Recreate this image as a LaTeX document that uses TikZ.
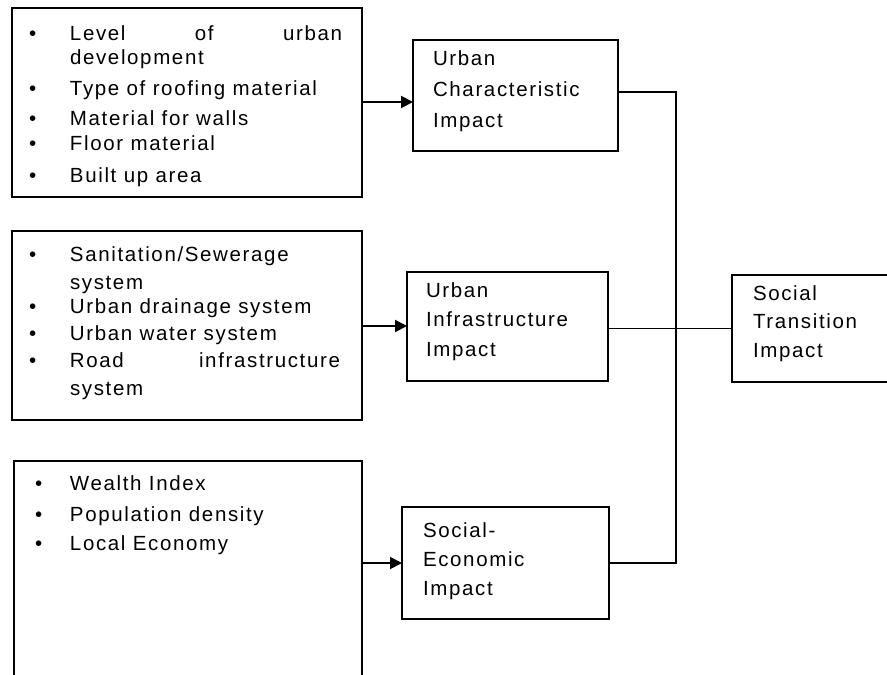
\documentclass[tikz,border=0pt]{standalone}
\usepackage{fontspec}
\setmainfont{Liberation Sans}[LetterSpace=8]
\usetikzlibrary{arrows.meta}
\hyphenpenalty=10000
\exhyphenpenalty=10000
\tolerance=10000
\hbadness=10000
% one bulleted entry: the bullet sits #1 to the left of the text block
\newcommand\listentry[2]{\noindent\llap{\makebox[#1][l]{\textbullet}}#2}
\begin{document}
\begin{tikzpicture}[x=1pt,y=-1pt,
  every node/.style={inner sep=0pt, outer sep=0pt},
  frame/.style={draw, line width=2pt, rectangle, anchor=north west},
  item/.style={anchor=base west, text width=#1, align=justify},
  item/.default=272pt,
  tight/.style={font=\fontsize{20.5pt}{24pt}\selectfont},
  loose/.style={font=\fontsize{20.5pt}{28pt}\selectfont},
  label/.style={anchor=base west, text width=190pt, align=left},
  arrow/.style={line width=2pt, -{Triangle[length=12pt,width=12pt]}},
  conn/.style={line width=2pt},
  thinconn/.style={line width=1.4pt}]
\useasboundingbox (0,0) rectangle (887,675);

% input boxes
\node[frame, minimum width=350pt, minimum height=189pt] (b1) at (12,8) {};
\node[frame, minimum width=350pt, minimum height=189pt] (b2) at (12,231) {};
\node[frame, minimum width=348pt, minimum height=240pt] (b3) at (14,461) {};

% impact boxes
\node[frame, minimum width=205pt, minimum height=111pt] (uc) at (413,40) {};
\node[frame, minimum width=201pt, minimum height=109pt] (ui) at (407,272) {};
\node[frame, minimum width=207pt, minimum height=112pt] (se) at (402,507) {};
\node[frame, minimum width=200pt, minimum height=107pt] (st) at (732,275) {};

% urban characteristics
\node[item, tight] (i11) at (70,40)  {\listentry{41pt}{Level of urban\linebreak development}};
\node[item, tight] (i12) at (70,95)  {\listentry{41pt}{Type of roofing material}};
\node[item, tight] (i13) at (70,125) {\listentry{41pt}{Material for walls}};
\node[item, tight] (i14) at (70,150) {\listentry{41pt}{Floor material}};
\node[item, tight] (i15) at (70,182) {\listentry{41pt}{Built up area}};

% urban infrastructure
\node[item=270pt, loose] (i21) at (70,261) {\listentry{41pt}{Sanitation/Sewerage\newline system}};
\node[item=270pt, loose] (i22) at (70,313) {\listentry{41pt}{Urban drainage system}};
\node[item=270pt, loose] (i23) at (70,340) {\listentry{41pt}{Urban water system}};
\node[item=270pt, loose] (i24) at (70,367) {\listentry{41pt}{Road infrastructure\linebreak system}};

% social-economic
\node[item=265pt, tight] (i31) at (70,490) {\listentry{35pt}{Wealth Index}};
\node[item=265pt, tight] (i32) at (70,521) {\listentry{35pt}{Population density}};
\node[item=265pt, tight] (i33) at (70,550) {\listentry{35pt}{Local Economy}};

% impact labels
\node[label, font=\fontsize{20.5pt}{31pt}\selectfont] (ucl) at (433,65)
  {Urban\\Characteristic\\Impact};
\node[label, font=\fontsize{20.5pt}{29.5pt}\selectfont] (uil) at (426,297)
  {Urban\\Infrastructure\\Impact};
\node[label, font=\fontsize{20.5pt}{29pt}\selectfont] (sel) at (423,537)
  {Social-\\Economic\\Impact};
\node[label, font=\fontsize{20.5pt}{28.5pt}\selectfont] (stl) at (753,300)
  {Social\\Transition\\Impact};

% inputs feed the impact boxes
\coordinate (t1) at (uc.west |- 0,102);
\coordinate (t2) at (ui.west |- 0,326);
\coordinate (t3) at (se.west);
\draw[arrow] (b1.east |- t1) -- (t1);
\draw[arrow] (b2.east |- t2) -- (t2);
\draw[arrow] (b3.east |- t3) -- (t3);

% collecting bus into the social transition box
\coordinate (bt) at (676,92);
\coordinate (bb) at (676,563);
\draw[conn] (uc.east |- bt) -- (bt) -- (bb) -- (se.east |- bb);
\draw[thinconn] (ui.east |- st.west) -- (st.west);
\end{tikzpicture}
\end{document}
